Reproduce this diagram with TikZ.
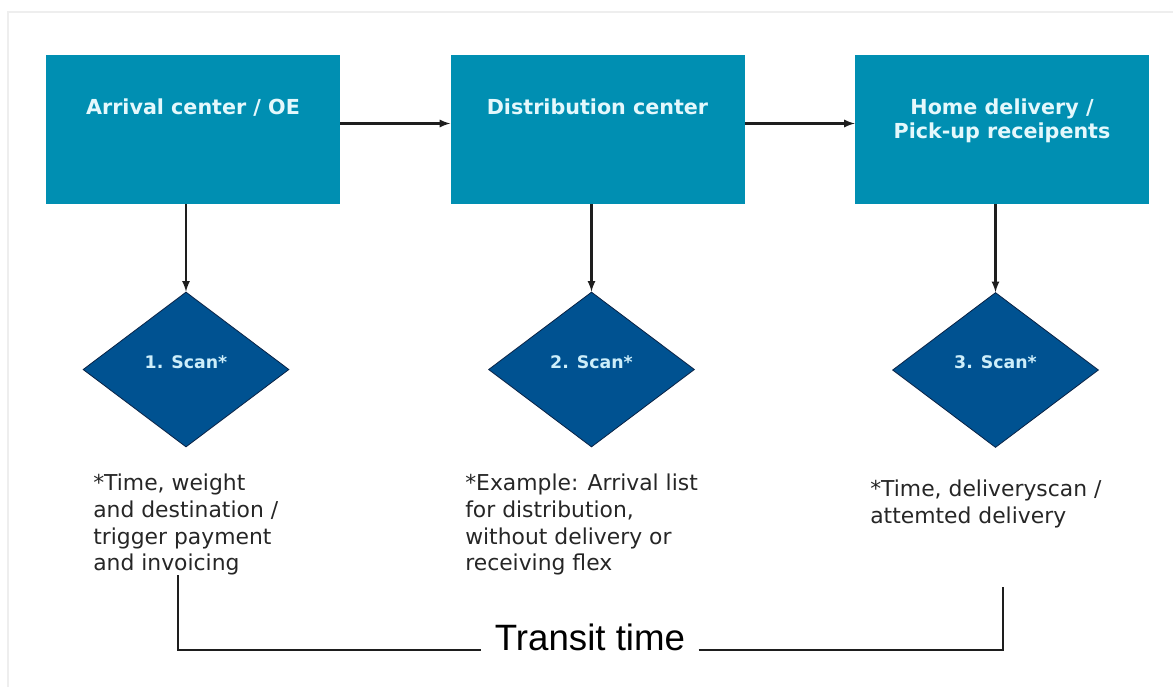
\documentclass[tikz,border=0pt]{standalone}
\usepackage{fontspec}
\setmainfont{DejaVu Sans}
\newfontfamily\transitfont{Liberation Sans}
\usepackage{xcolor}
\usepackage{tikz}
\usetikzlibrary{arrows,shapes,positioning}
\definecolor{stageteal}{RGB}{0,143,178}
\definecolor{scanblue}{RGB}{0,82,145}
\definecolor{scanedge}{RGB}{10,35,70}
\definecolor{titlecyan}{RGB}{228,248,252}
\definecolor{scancyan}{RGB}{205,238,250}
\definecolor{framegray}{RGB}{238,238,238}
\definecolor{linegray}{RGB}{30,30,30}

\tikzset{
  stagebox/.style={rectangle, fill=stageteal, minimum width=220.5pt, minimum height=111.75pt, inner sep=0pt},
  stagetitle/.style={anchor=north, align=center, inner sep=0pt, text=titlecyan, font=\fontsize{15.5}{18}\selectfont\bfseries},
  scanshape/.style={diamond, fill=scanblue, draw=scanedge, line width=0.6pt, minimum width=154.5pt, minimum height=116.25pt, inner sep=0pt},
  scanlabel/.style={text=scancyan, inner sep=0pt, font=\fontsize{13}{15}\selectfont\bfseries},
  note/.style={anchor=north west, align=left, inner sep=0pt, text=black!85, font=\fontsize{16.4}{20}\selectfont},
  flow/.style={-latex, draw=linegray, line width=1.7pt}
}

\begin{document}
\begin{tikzpicture}[x=0.75pt, y=-0.75pt]
            \useasboundingbox (0,0) rectangle (1173,687);
            % faint page frame
            \draw[framegray, line width=0.8pt] (8,687) |- (1173,12);

            % The three stages
            \node[stagebox] (arrival) at (193,129.5) {};
            \node[stagetitle] (arrivaltitle) at (193,99) {Arrival center / OE};

            \node[stagebox] (distribution) at (597.5,129.5) {};
            \node[stagetitle] (distributiontitle) at (597.5,99) {Distribution center};

            \node[stagebox] (delivery) at (1002,129.5) {};
            \node[stagetitle] (deliverytitle) at (1002,99) {Home delivery /\\Pick-up receipents};

            \draw[flow] ([yshift=4.5pt]arrival.east) -- ([yshift=4.5pt]distribution.west);
            \draw[flow] ([yshift=4.5pt]distribution.east) -- ([yshift=4.5pt]delivery.west);

            % Scan points below each stage
            \node[scanshape] (scan1) at (186,369.5) {};
            \node[scanlabel] (scan1label) at (186,362) {1. Scan*};

            \node[scanshape] (scan2) at (591.5,369.5) {};
            \node[scanlabel] (scan2label) at (591.5,362) {2. Scan*};

            \node[scanshape] (scan3) at (995.5,370) {};
            \node[scanlabel] (scan3label) at (995.5,362) {3. Scan*};

            \draw[flow] (scan1.north |- arrival.south) -- (scan1.north);
            \draw[flow] (scan2.north |- distribution.south) -- (scan2.north);
            \draw[flow] (scan3.north |- delivery.south) -- (scan3.north);

            % Footnotes for the scans
            \node[note] (note1) at (93,474) {*Time, weight\\and destination /\\trigger payment\\and invoicing};
            \node[note] (note2) at (465,474) {*Example: Arrival list\\for distribution,\\without delivery or\\receiving flex};
            \node[note] (note3) at (870,480) {*Time, deliveryscan /\\attemted delivery};

            % Transit time bracket
            \coordinate (bracketleft) at (178,575);
            \coordinate (bracketright) at (1003,587);
            \node[font=\transitfont\fontsize{27.5}{32}\selectfont, inner xsep=10pt] (transit) at (590,637) {Transit time};
            \draw[linegray, line width=1.6pt] (bracketleft) |- (transit.base west);
            \draw[linegray, line width=1.6pt] (transit.base east) -| (bracketright);
        \end{tikzpicture}
\end{document}
